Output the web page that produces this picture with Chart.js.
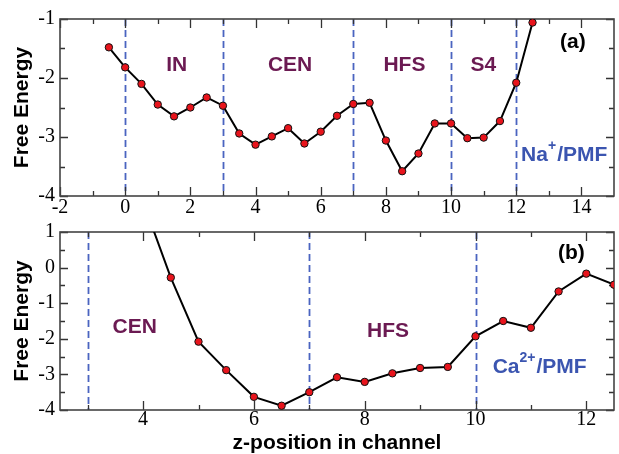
<!DOCTYPE html>
<html><head><meta charset="utf-8">
<script src="https://cdn.jsdelivr.net/npm/chart.js@4.4.1/dist/chart.umd.min.js"></script>
<style>
html,body{margin:0;padding:0;background:#fff;}
#wrap{position:relative;width:619px;height:454px;overflow:hidden;background:#fff;}
canvas{position:absolute;left:0;}
#c1{top:0;}
#c2{top:212px;}
</style></head><body>
<div id="wrap">
<canvas id="c1" width="619" height="227"></canvas>
<canvas id="c2" width="619" height="242"></canvas>
</div>
<script>
// ---- data: panel (a) Na+ PMF ----
const naZ  = [-0.5,0,0.5,1,1.5,2,2.5,3,3.5,4,4.5,5,5.5,6,6.5,7,7.5,8,8.5,9,9.5,10,10.5,11,11.5,12,12.5];
const naFE = [-1.48,-1.82,-2.10,-2.45,-2.65,-2.50,-2.33,-2.47,-2.94,-3.13,-2.99,-2.85,-3.11,-2.91,-2.64,-2.44,-2.42,-3.06,-3.58,-3.28,-2.77,-2.77,-3.02,-3.01,-2.73,-2.08,-1.06];
const naBounds = [0,3,7,10,12];
const naXTicks = [-2,0,2,4,6,8,10,12,14];
const naXMinor = [-1,1,3,5,7,9,11,13];
const naYTicks = [-4,-3,-2,-1];
const naYMinor = [-3.5,-2.5,-1.5];
const naRegions = ['IN','CEN','HFS','S4'];

// ---- data: panel (b) Ca2+ PMF ----
const caZ  = [4,4.5,5,5.5,6,6.5,7,7.5,8,8.5,9,9.5,10,10.5,11,11.5,12,12.5];
const caFE = [1.85,-0.28,-2.08,-2.88,-3.63,-3.88,-3.50,-3.08,-3.21,-2.97,-2.82,-2.79,-1.93,-1.50,-1.69,-0.67,-0.17,-0.48];
const caBounds = [3,7,10];
const caXTicks = [4,6,8,10,12];
const caXMinor = [3,5,7,9,11];
const caYTicks = [-4,-3,-2,-1,0,1];
const caYMinor = [-3.5,-2.5,-1.5,-0.5,0.5];
const caRegions = ['CEN','HFS'];

const MAROON = '#6b1a52', BLUE = '#3b55b0';
const SANS = "'Liberation Sans', Arial, sans-serif";
const SERIF = "'Liberation Serif', 'Times New Roman', serif";

const panelPlugin = {
  id: 'panel',
  beforeDatasetsDraw(chart, args, o) {
    const {ctx, chartArea: a, scales: {x, y}} = chart;
    ctx.save();
    ctx.strokeStyle = '#4a64c0'; ctx.lineWidth = 1.8; ctx.setLineDash([7, 4]);
    o.bounds.forEach(v => {
      const px = Math.round(x.getPixelForValue(v)) + 0.5;
      ctx.beginPath(); ctx.moveTo(px, a.top); ctx.lineTo(px, a.bottom); ctx.stroke();
    });
    ctx.setLineDash([]);
    ctx.strokeStyle = '#333'; ctx.lineWidth = 1.3;
    const xt = (vals, len) => vals.forEach(v => {
      const px = Math.round(x.getPixelForValue(v)) + 0.5;
      ctx.beginPath(); ctx.moveTo(px, a.bottom); ctx.lineTo(px, a.bottom - len);
      ctx.moveTo(px, a.top); ctx.lineTo(px, a.top + len); ctx.stroke();
    });
    const yt = (vals, len) => vals.forEach(v => {
      const py = Math.round(y.getPixelForValue(v)) + 0.5;
      ctx.beginPath(); ctx.moveTo(a.left, py); ctx.lineTo(a.left + len, py);
      ctx.moveTo(a.right, py); ctx.lineTo(a.right - len, py); ctx.stroke();
    });
    xt(o.xMajor, 9); xt(o.xMinor, 5); yt(o.yMajor, 8); yt(o.yMinor, 5);
    ctx.strokeStyle = '#444'; ctx.lineWidth = 1.6;
    ctx.strokeRect(a.left, a.top, a.width, a.height);
    ctx.restore();
  },
  afterDatasetsDraw(chart, args, o) {
    const {ctx, scales: {x, y}} = chart;
    ctx.save();
    ctx.textBaseline = 'middle';
    o.labels.forEach(l => {
      const px = x.getPixelForValue(l.x), py = y.getPixelForValue(l.y);
      ctx.fillStyle = l.color;
      if (!l.parts) {
        ctx.font = 'bold 21px ' + SANS; ctx.textAlign = 'center';
        ctx.fillText(l.text, px, py);
      } else {
        ctx.textAlign = 'left';
        let cx = px;
        l.parts.forEach(([t, sup]) => {
          ctx.font = sup ? 'bold 14px ' + SANS : 'bold 21px ' + SANS;
          ctx.fillText(t, cx, sup ? py - 9 : py);
          cx += ctx.measureText(t).width + (sup ? 1 : 0);
        });
      }
    });
    ctx.restore();
  }
};

function makeChart(id, zs, fes, cfg) {
  return new Chart(document.getElementById(id), {
    type: 'line',
    data: { datasets: [{
      data: zs.map((z, i) => ({x: z, y: fes[i]})),
      borderColor: '#000', borderWidth: 2, tension: 0,
      pointRadius: 3.7, pointBackgroundColor: '#e8141c', pointBorderColor: '#111', pointBorderWidth: 1
    }]},
    options: {
      responsive: false, animation: false, devicePixelRatio: 1,
      layout: { padding: cfg.padding },
      plugins: { legend: {display: false}, tooltip: {enabled: false},
        panel: { bounds: cfg.bounds, xMajor: cfg.xTicks, xMinor: cfg.xMinor, yMajor: cfg.yTicks, yMinor: cfg.yMinor, labels: cfg.labels } },
      scales: {
        x: { type: 'linear', min: cfg.xmin, max: cfg.xmax,
          afterBuildTicks: s => { s.ticks = cfg.xTicks.map(v => ({value: v})); },
          afterFit: s => { s.height = cfg.xh; },
          grid: {display: false, drawTicks: false}, border: {display: false},
          ticks: { color: '#000', font: {family: SERIF, size: 20}, padding: cfg.xpad, maxRotation: 0, autoSkip: false },
          title: cfg.xtitle ? { display: true, text: cfg.xtitle, color: '#000', font: {family: SANS, size: 21, weight: 'bold', lineHeight: 1}, padding: {top: 0, bottom: 0} } : {display: false}
        },
        y: { min: cfg.ymin, max: cfg.ymax,
          afterBuildTicks: s => { s.ticks = cfg.yTicks.map(v => ({value: v})); },
          afterFit: s => { s.width = 60; },
          grid: {display: false, drawTicks: false}, border: {display: false},
          ticks: { color: '#000', font: {family: SERIF, size: 20}, padding: 5 },
          title: { display: true, text: 'Free Energy', color: '#000', font: {family: SANS, size: 21, weight: 'bold', lineHeight: 1}, padding: {top: 12, bottom: 0} }
        }
      }
    },
    plugins: [panelPlugin]
  });
}

makeChart('c1', naZ, naFE, {
  xmin: -2, xmax: 15, ymin: -4, ymax: -1, xh: 31, xpad: 0,
  padding: {top: 19, right: 3, left: 0, bottom: 0},
  bounds: naBounds, xTicks: naXTicks, xMinor: naXMinor, yTicks: naYTicks, yMinor: naYMinor,
  labels: [
    {text: naRegions[0], x: 1.58, y: -1.78, color: MAROON},
    {text: naRegions[1], x: 5.06, y: -1.78, color: MAROON},
    {text: naRegions[2], x: 8.57, y: -1.78, color: MAROON},
    {text: naRegions[3], x: 10.99, y: -1.78, color: MAROON},
    {text: '(a)', x: 13.74, y: -1.40, color: '#000'},
    {parts: [['Na', 0], ['+', 1], ['/PMF', 0]], x: 12.15, y: -3.31, color: BLUE}
  ]
});

makeChart('c2', caZ, caFE, {
  xmin: 2.5, xmax: 12.5, ymin: -4, ymax: 1, xh: 44, xpad: -2, xtitle: 'z-position in channel',
  padding: {top: 20, right: 3, left: 0, bottom: 0},
  bounds: caBounds, xTicks: caXTicks, xMinor: caXMinor, yTicks: caYTicks, yMinor: caYMinor,
  labels: [
    {text: caRegions[0], x: 3.85, y: -1.67, color: MAROON},
    {text: caRegions[1], x: 8.42, y: -1.78, color: MAROON},
    {text: '(b)', x: 11.73, y: 0.40, color: '#000'},
    {parts: [['Ca', 0], ['2+', 1], ['/PMF', 0]], x: 10.31, y: -2.79, color: BLUE}
  ]
});
</script>
</body></html>
